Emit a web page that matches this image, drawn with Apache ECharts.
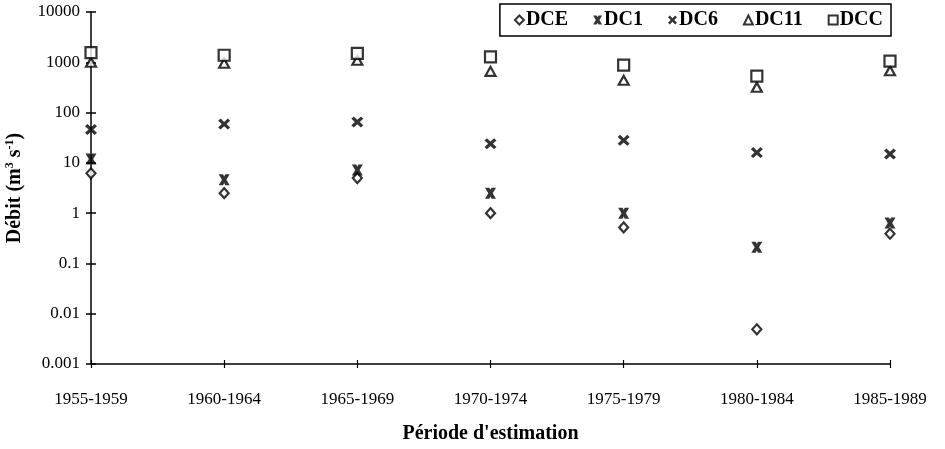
<!DOCTYPE html>
<html>
<head>
<meta charset="utf-8">
<script src="https://cdn.jsdelivr.net/npm/echarts@6/dist/echarts.min.js"></script>
<style>
  html, body { margin: 0; padding: 0; background: #fff; }
  #chart { width: 945px; height: 449px; }
</style>
</head>
<body>
<div id="chart"></div>
<script>
// data
const categories = ['1955-1959', '1960-1964', '1965-1969', '1970-1974', '1975-1979', '1980-1984', '1985-1989'];
const dce  = [6.2, 2.5, 5.0, 1.0, 0.52, 0.0049, 0.39];
const dc1  = [12, 4.6, 7.2, 2.5, 1.0, 0.21, 0.64];
const dc6  = [46, 59, 65, 24, 28, 16, 15];
const dc11 = [1000, 960, 1100, 660, 440, 320, 680];
const dcc  = [1550, 1380, 1500, 1280, 880, 530, 1050];
const yTickLabels = ['0.001', '0.01', '0.1', '1', '10', '100', '1000', '10000'];

const serif = "'Liberation Serif', 'Times New Roman', serif";

// marker shapes
const thinX = 'path://M0,2L2,0L5,3L8,0L10,2L7,5L10,8L8,10L5,7L2,10L0,8L3,5Z';
const boldX = 'path://M0,0L4,0L5,2L6,0L10,0L7,5L10,10L6,10L5,8L4,10L0,10L3,5Z';

const hollow = { color: '#fff', borderColor: '#000', borderWidth: 2.2 };
const filled = { color: '#000' };

var myChart = echarts.init(document.getElementById('chart'));

function tickLabel(v) {
    return yTickLabels[Math.round(Math.log10(v)) + 3];
}

myChart.setOption({
    animation: false,
    textStyle: { fontFamily: serif, color: '#000' },
    grid: { left: 91, right: 55, top: 12, bottom: 85, containLabel: false, outerBoundsMode: 'none' },
    legend: {
        right: 54,
        top: 4,
        padding: [6, 8, 6, 14],
        borderColor: '#000',
        borderWidth: 1.5,
        itemGap: 25,
        itemWidth: 9,
        itemHeight: 9,
        textStyle: { fontFamily: serif, fontWeight: 'bold', fontSize: 20, color: '#000', padding: [0, 0, 0, -3] },
        data: ['DCE', 'DC1', 'DC6', 'DC11', 'DCC']
    },
    xAxis: [
        {
            type: 'category',
            data: categories,
            boundaryGap: false,
            axisLine: { lineStyle: { color: '#000', width: 1.5 } },
            axisTick: { show: true, inside: false, length: 4, lineStyle: { color: '#000', width: 1.2 } },
            axisLabel: { color: '#000', fontFamily: serif, fontSize: 17, margin: 27 },
            splitLine: { show: false },
            name: "Période d'estimation",
            nameLocation: 'middle',
            nameGap: 60,
            nameTextStyle: { color: '#000', fontFamily: serif, fontWeight: 'bold', fontSize: 20 }
        },
        {
            // inner half of the crossing ticks
            type: 'category',
            data: categories,
            boundaryGap: false,
            position: 'bottom',
            axisLine: { show: false },
            axisTick: { show: true, inside: true, length: 4, lineStyle: { color: '#000', width: 1.2 } },
            axisLabel: { show: false },
            splitLine: { show: false }
        }
    ],
    yAxis: [
        {
            type: 'log',
            logBase: 10,
            min: 0.001,
            max: 10000,
            interval: 1,
            axisLine: { show: true, lineStyle: { color: '#000', width: 1.5 } },
            axisTick: { show: true, inside: false, length: 5, lineStyle: { color: '#000', width: 1.5 } },
            axisLabel: { color: '#000', fontFamily: serif, fontSize: 17, margin: 11, formatter: tickLabel },
            splitLine: { show: false },
            minorTick: { show: false },
            name: 'Débit (m{sup|3} s{sup|-1})',
            nameLocation: 'middle',
            nameGap: 66,
            nameTextStyle: {
                color: '#000', fontFamily: serif, fontWeight: 'bold', fontSize: 20,
                rich: {
                    sup: { color: '#000', fontFamily: serif, fontWeight: 'bold', fontSize: 12, padding: [0, 0, 9, 0] }
                }
            }
        },
        {
            type: 'log',
            logBase: 10,
            min: 0.001,
            max: 10000,
            interval: 1,
            position: 'left',
            axisLine: { show: false },
            axisTick: { show: true, inside: true, length: 5, lineStyle: { color: '#000', width: 1.5 } },
            axisLabel: { show: false },
            splitLine: { show: false }
        }
    ],
    series: [
        { name: 'DCE',  type: 'scatter', data: dce,  symbol: 'diamond',  symbolSize: [9, 10], itemStyle: hollow },
        { name: 'DC1',  type: 'scatter', data: dc1,  symbol: boldX,      symbolSize: [11, 11], itemStyle: filled },
        { name: 'DC6',  type: 'scatter', data: dc6,  symbol: thinX,      symbolSize: [12, 11], itemStyle: filled },
        { name: 'DC11', type: 'scatter', data: dc11, symbol: 'triangle', symbolSize: [10, 9], itemStyle: hollow },
        { name: 'DCC',  type: 'scatter', data: dcc,  symbol: 'rect',     symbolSize: [11, 11], itemStyle: hollow }
    ]
});
</script>
</body>
</html>
